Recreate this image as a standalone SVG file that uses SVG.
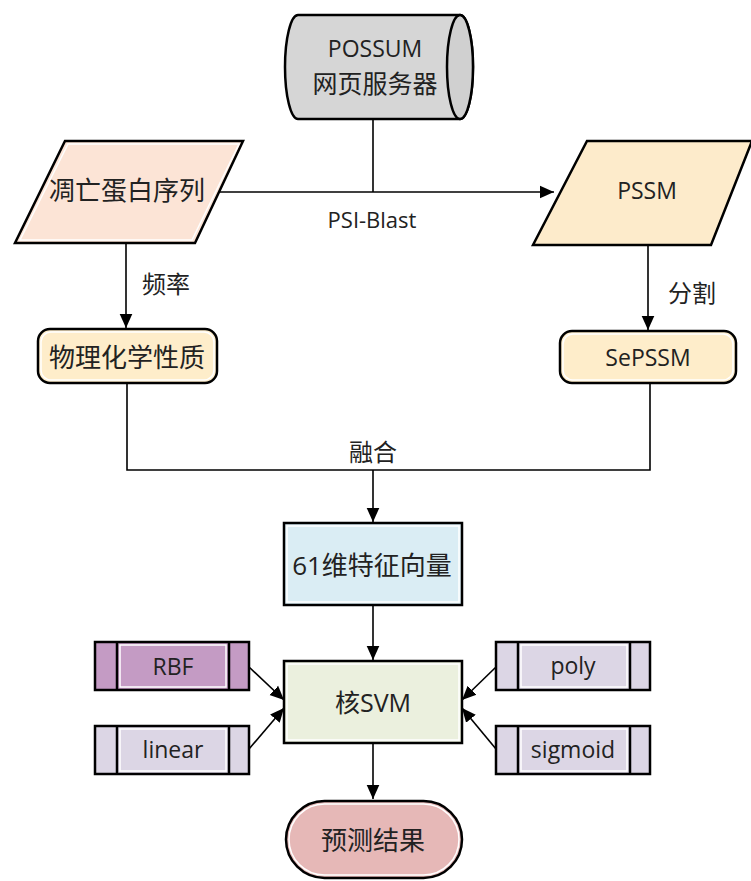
<svg xmlns="http://www.w3.org/2000/svg" width="751" height="881" viewBox="0 0 751 881">
<defs>
<marker id="ahb" viewBox="0 0 10 10" refX="10" refY="5" markerWidth="14" markerHeight="14" markerUnits="userSpaceOnUse" orient="auto">
<path d="M0,0.5 L10,5 L0,9.5 z" fill="#000"/>
</marker>
</defs>
<style>
.sh{stroke:#000;stroke-width:2.5}
.in{fill:none;stroke:#fff;stroke-width:1.5}
.t{font-family:"Open Sans","Noto Sans","Noto Sans CJK SC",sans-serif;font-size:23px;fill:#222;text-anchor:middle;dominant-baseline:central}
.z{font-size:26px}
.l{font-size:24px}
.c{stroke:#000;stroke-width:1.6;fill:none}
</style>
<rect width="751" height="881" fill="#fff"/>

<g id="connectors">
<line class="c" x1="373" y1="120" x2="373" y2="192"/>
<line class="c" x1="218" y1="192" x2="554" y2="192" marker-end="url(#ahb)"/>
<text class="t" x="372" y="219" style="font-size:22px">PSI-Blast</text>
<line class="c" x1="126" y1="243" x2="126" y2="328" marker-end="url(#ahb)"/>
<text class="t l" x="166" y="283">频率</text>
<line class="c" x1="648" y1="245" x2="648" y2="330" marker-end="url(#ahb)"/>
<text class="t l" x="692" y="292">分割</text>
<polyline class="c" points="127,383 127,470 650,470 650,383"/>
<line class="c" x1="373" y1="470" x2="373" y2="522" marker-end="url(#ahb)"/>
<text class="t l" x="373" y="451">融合</text>
<line class="c" x1="373" y1="605" x2="373" y2="660" marker-end="url(#ahb)"/>
<line class="c" x1="373" y1="743" x2="373" y2="799" marker-end="url(#ahb)"/>
<line class="c" x1="249" y1="667" x2="284" y2="700" marker-end="url(#ahb)"/>
<line class="c" x1="249" y1="749" x2="284" y2="708" marker-end="url(#ahb)"/>
<line class="c" x1="496" y1="667" x2="462" y2="700" marker-end="url(#ahb)"/>
<line class="c" x1="496" y1="749" x2="462" y2="708" marker-end="url(#ahb)"/>
</g>

<g id="possum">
<path class="sh" fill="#d6d6d6" d="M298,15 L460,15 A13,52 0 0 1 460,119 L298,119 A13,52 0 0 1 298,15 Z"/>
<ellipse class="sh" cx="460" cy="67" rx="13" ry="52" fill="#d0d0d0"/>
<text class="t" x="375" y="48">POSSUM</text>
<text class="t" x="375" y="83" style="font-size:25px">网页服务器</text>
</g>

<g id="seq">
<polygon class="sh" fill="#fce4d6" points="65,141 243,141 195,243 15,243"/>
<polygon class="in" points="68,144 239,144 192,240 20,240"/>
<text class="t z" x="127" y="190">凋亡蛋白序列</text>
</g>

<g id="pssm">
<polygon class="sh" fill="#fdebcb" points="587,141 752,141 711,245 533,245"/>
<text class="t" x="647" y="190">PSSM</text>
</g>

<g id="physchem">
<rect class="sh" fill="#feedca" x="38" y="329" width="179" height="54" rx="12"/>
<rect class="in" x="41" y="332" width="173" height="48" rx="10"/>
<text class="t z" x="127" y="357">物理化学性质</text>
</g>

<g id="sepssm">
<rect class="sh" fill="#feedca" x="560" y="331" width="176" height="52" rx="12"/>
<rect class="in" x="563" y="334" width="170" height="46" rx="10"/>
<text class="t" x="648" y="357">SePSSM</text>
</g>

<g id="feature">
<rect class="sh" fill="#daedf4" x="284" y="523" width="178" height="82"/>
<rect class="in" x="287" y="526" width="172" height="76"/>
<text class="t z" x="372" y="565">61维特征向量</text>
</g>

<g id="svm">
<rect class="sh" fill="#ebf0de" x="284" y="661" width="178" height="82"/>
<rect class="in" x="287" y="664" width="172" height="76"/>
<text class="t" x="373" y="702" style="font-size:25px">核SVM</text>
</g>

<g id="rbf">
<rect class="sh" fill="#c49bc4" x="95" y="642" width="154" height="48"/>
<line class="sh" x1="117" y1="642" x2="117" y2="690"/>
<line class="sh" x1="229" y1="642" x2="229" y2="690"/>
<rect class="in" x="120" y="645" width="106" height="42"/>
<text class="t" x="173" y="666">RBF</text>
</g>

<g id="linear">
<rect class="sh" fill="#dcd6e5" x="95" y="726" width="154" height="48"/>
<line class="sh" x1="117" y1="726" x2="117" y2="774"/>
<line class="sh" x1="229" y1="726" x2="229" y2="774"/>
<rect class="in" x="120" y="729" width="106" height="42"/>
<text class="t" x="173" y="749">linear</text>
</g>

<g id="poly">
<rect class="sh" fill="#dcd6e5" x="496" y="642" width="154" height="48"/>
<line class="sh" x1="518" y1="642" x2="518" y2="690"/>
<line class="sh" x1="630" y1="642" x2="630" y2="690"/>
<rect class="in" x="521" y="645" width="106" height="42"/>
<text class="t" x="573" y="665">poly</text>
</g>

<g id="sigmoid">
<rect class="sh" fill="#dcd6e5" x="496" y="726" width="154" height="48"/>
<line class="sh" x1="518" y1="726" x2="518" y2="774"/>
<line class="sh" x1="630" y1="726" x2="630" y2="774"/>
<rect class="in" x="521" y="729" width="106" height="42"/>
<text class="t" x="573" y="749">sigmoid</text>
</g>

<g id="result">
<rect class="sh" fill="#e6b8b7" x="286" y="801" width="176" height="77" rx="38.5"/>
<rect class="in" x="289" y="804" width="170" height="71" rx="35.5"/>
<text class="t z" x="373" y="840">预测结果</text>
</g>
</svg>
